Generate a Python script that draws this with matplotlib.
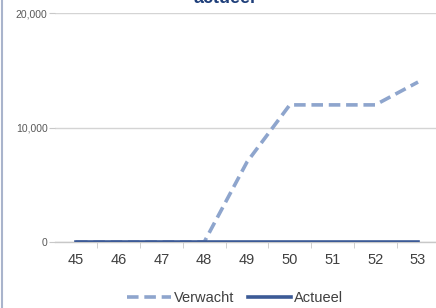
import matplotlib
matplotlib.use('Agg')
import matplotlib.pyplot as plt
from matplotlib.lines import Line2D

# data
weken = [45, 46, 47, 48, 49, 50, 51, 52, 53]
verwacht = [0, 0, 0, 0, 7000, 12000, 12000, 12000, 14000]
actueel = [0, 0, 0, 0, 0, 0, 0, 0, 0]
y_ticks = [0, 10000, 20000]
y_labels = ['0', '10,000', '20,000']

plt.rcParams['font.family'] = ['Liberation Sans', 'DejaVu Sans']

fig = plt.figure(figsize=(4.36, 3.08), dpi=100)
ax = fig.add_axes([0.1252, 0.2143, 0.8826, 0.7419])

c_verwacht = '#8ea5cd'
c_actueel = '#3c5a96'

ax.plot(weken, verwacht, color=c_verwacht, lw=2.6, dashes=(3.2, 1.6), zorder=3)
ax.plot(weken, actueel, color=c_actueel, lw=2.6, zorder=4)

ax.set_xlim(44.5, 53.5)
ax.set_ylim(0, 20000)
ax.set_yticks(y_ticks)
ax.set_yticklabels(y_labels)
ax.set_xticks(weken)
ax.set_xticks([w + 0.5 for w in weken[:-1]], minor=True)

for s in ['top', 'right', 'left']:
    ax.spines[s].set_visible(False)
ax.spines['bottom'].set_color('#c8c8c8')
ax.spines['bottom'].set_linewidth(1.0)

ax.grid(axis='y', color='#d4d4d4', lw=1.0)
ax.set_axisbelow(True)
ax.tick_params(axis='y', length=4, color='#c8c8c8', labelsize=7.5, labelcolor='#595959', pad=1)
ax.tick_params(axis='x', which='major', length=0, labelsize=10.5, labelcolor='#404040', pad=8)
ax.tick_params(axis='x', which='minor', length=4, color='#c8c8c8')

# title (cut off at the top, as in the original)
fig.text(0.514, 0.978, 'actueel', ha='center', va='bottom', fontsize=13,
         fontweight='bold', color='#1f3f7a')

# left border of chart area
fig.add_artist(Line2D([0.004, 0.004], [0, 1], color='#a9b4cc', lw=1.5))

handles = [Line2D([], [], color=c_verwacht, lw=2.6, dashes=(3.2, 1.6)),
           Line2D([], [], color=c_actueel, lw=2.6)]
fig.legend(handles, ['Verwacht', 'Actueel'], loc='center', bbox_to_anchor=(0.54, 0.032),
           ncol=2, frameon=False, fontsize=10.5, handlelength=3.0, handletextpad=0.2,
           columnspacing=0.9, labelcolor='#404040')

fig.savefig('out.png', dpi=100)
